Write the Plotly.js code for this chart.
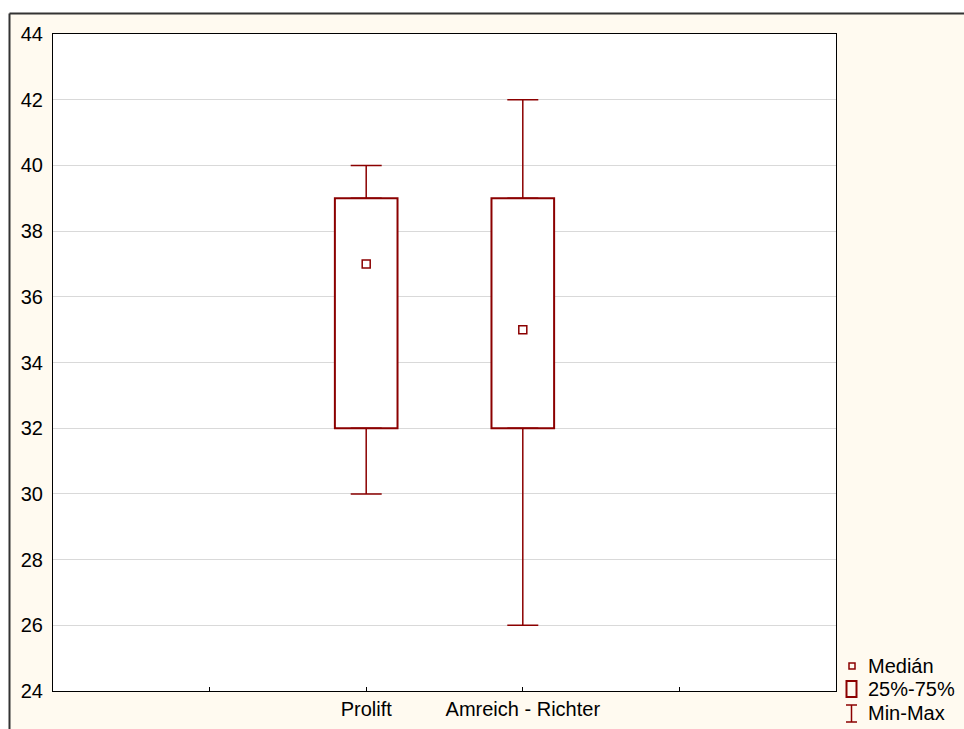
<!DOCTYPE html>
<html>
<head>
<meta charset="utf-8">
<script src="https://cdn.plot.ly/plotly-3.0.1.min.js"></script>
<style>html,body{margin:0;padding:0;background:#fff;}#chart{width:964px;height:729px;}</style>
</head>
<body>
<div id="chart"></div>
<script>
// ---- data ----
const categories = ['Prolift', 'Amreich - Richter'];
const catPos = [2, 3];
const tickPos = [1, 2, 3, 4];
const tickLabels = ['', 'Prolift', 'Amreich - Richter', ''];
const minVals = [30, 26];
const q1Vals = [32, 32];
const medianVals = [37, 35];
const q3Vals = [39, 39];
const maxVals = [40, 42];
const legendLabels = ['Medián', '25%-75%', 'Min-Max'];

const RED = '#8B0000';
const FONT = 'Liberation Sans, Arial, sans-serif';
const CREAM = '#FFFAF0';
const FS = 20;

// ---- traces ----
const boxTrace = {
  type: 'bar', x: catPos, base: q1Vals,
  y: q3Vals.map((v, i) => v - q1Vals[i]),
  width: 0.4,
  marker: {color: '#ffffff', line: {color: RED, width: 2}},
  showlegend: false, hoverinfo: 'skip'
};
const upperWhisker = {
  type: 'scatter', mode: 'markers', x: catPos, y: q3Vals,
  marker: {size: 0.1, color: 'rgba(0,0,0,0)'},
  error_y: {type: 'data', symmetric: false,
    array: maxVals.map((v, i) => v - q3Vals[i]),
    arrayminus: q3Vals.map(() => 0),
    color: RED, thickness: 1.5, width: 15.5},
  showlegend: false, hoverinfo: 'skip'
};
const lowerWhisker = {
  type: 'scatter', mode: 'markers', x: catPos, y: q1Vals,
  marker: {size: 0.1, color: 'rgba(0,0,0,0)'},
  error_y: {type: 'data', symmetric: false,
    array: q1Vals.map(() => 0),
    arrayminus: q1Vals.map((v, i) => v - minVals[i]),
    color: RED, thickness: 1.5, width: 15.5},
  showlegend: false, hoverinfo: 'skip'
};
const medianTrace = {
  type: 'scatter', mode: 'markers', x: catPos, y: medianVals,
  marker: {symbol: 'square-open', size: 8, color: RED, line: {width: 1.5, color: RED}},
  showlegend: false, hoverinfo: 'skip'
};

// ---- layout helpers (pixel -> paper) ----
const L = 53, R = 836, T = 34, B = 691;
const px = p => (p - L) / (R - L);
const py = p => (B - p) / (B - T);

const shapes = [
  {type: 'rect', xref: 'paper', yref: 'paper', x0: px(-5), x1: px(970), y0: py(13.5), y1: py(-5), fillcolor: '#ffffff', line: {width: 0}, layer: 'below'},
  {type: 'rect', xref: 'paper', yref: 'paper', x0: px(-5), x1: px(9.5), y0: py(735), y1: py(13.5), fillcolor: '#ffffff', line: {width: 0}, layer: 'below'},
  {type: 'line', xref: 'paper', yref: 'paper', x0: px(9.5), x1: px(9.5), y0: py(735), y1: py(13.5), line: {color: '#333', width: 2}},
  {type: 'line', xref: 'paper', yref: 'paper', x0: px(9.5), x1: px(970), y0: py(13.5), y1: py(13.5), line: {color: '#333', width: 2}},
  {type: 'rect', xref: 'paper', yref: 'paper', x0: px(849), x1: px(855), y0: py(669), y1: py(663), line: {color: RED, width: 1.5}},
  {type: 'rect', xref: 'paper', yref: 'paper', x0: px(846.5), x1: px(856.5), y0: py(697), y1: py(681), line: {color: RED, width: 2}},
  {type: 'line', xref: 'paper', yref: 'paper', x0: px(851.5), x1: px(851.5), y0: py(722), y1: py(705), line: {color: RED, width: 1.5}},
  {type: 'line', xref: 'paper', yref: 'paper', x0: px(846), x1: px(857), y0: py(705), y1: py(705), line: {color: RED, width: 1.5}},
  {type: 'line', xref: 'paper', yref: 'paper', x0: px(846), x1: px(857), y0: py(722), y1: py(722), line: {color: RED, width: 1.5}}
];

const legendY = [666, 689, 713];
const annotations = legendLabels.map((t, i) => ({
  xref: 'paper', yref: 'paper', x: px(866), y: py(legendY[i]),
  xanchor: 'left', yanchor: 'middle', text: t, showarrow: false,
  font: {family: FONT, size: FS, color: '#000'}
}));

const layout = {
  width: 964, height: 729,
  margin: {l: L, r: 964 - R, t: T, b: 729 - B, pad: 0},
  paper_bgcolor: CREAM, plot_bgcolor: '#ffffff',
  showlegend: false,
  font: {family: FONT, size: FS, color: '#000'},
  xaxis: {range: [0, 5], tickmode: 'array', tickvals: tickPos, ticktext: tickLabels,
    ticks: 'inside', ticklen: 4, tickwidth: 1, tickcolor: '#000',
    showgrid: false, zeroline: false, showline: true, linecolor: '#000', linewidth: 1, mirror: true,
    tickfont: {family: FONT, size: FS, color: '#000'}, fixedrange: true},
  yaxis: {range: [24, 44], tickmode: 'linear', tick0: 24, dtick: 2,
    ticks: '', showgrid: true, gridcolor: '#d9d9d9', gridwidth: 1, zeroline: false,
    showline: true, linecolor: '#000', linewidth: 1, mirror: true,
    ticklabelstandoff: 5,
    tickfont: {family: FONT, size: FS, color: '#000'}, fixedrange: true},
  bargap: 0,
  shapes: shapes,
  annotations: annotations
};

Plotly.newPlot('chart', [boxTrace, upperWhisker, lowerWhisker, medianTrace], layout, {staticPlot: true});
</script>
</body>
</html>
